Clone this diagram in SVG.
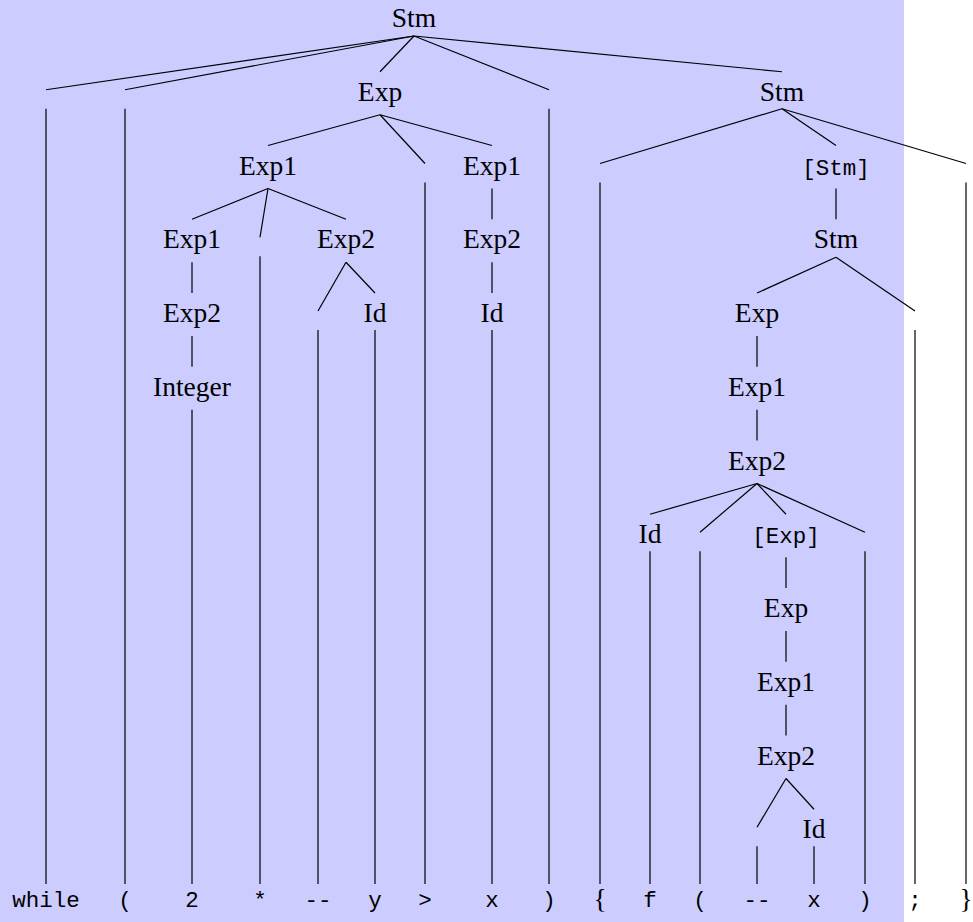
<svg xmlns="http://www.w3.org/2000/svg" width="973" height="922" viewBox="0 0 973 922">
<style>
.n{font-family:"Liberation Serif","DejaVu Serif",serif;font-size:27.5px;text-anchor:middle;fill:#000}
.m{font-family:"Liberation Mono","DejaVu Sans Mono",monospace;font-size:22.5px;text-anchor:middle;fill:#000}
#edges line{stroke:#000;stroke-width:1.2;stroke-linecap:butt}
</style>
<rect x="0" y="0" width="904" height="922" fill="#ccccff"/>
<g id="edges">
<line x1="414" y1="36" x2="46" y2="89.75"/>
<line x1="414" y1="36" x2="125" y2="89.75"/>
<line x1="414" y1="36" x2="380" y2="71.75"/>
<line x1="414" y1="36" x2="549" y2="89.75"/>
<line x1="414" y1="36" x2="782" y2="71.75"/>
<line x1="46" y1="108.75" x2="46" y2="884"/>
<line x1="125" y1="108.75" x2="125" y2="884"/>
<line x1="549" y1="108.75" x2="549" y2="884"/>
<line x1="380" y1="114.75" x2="268" y2="145.5"/>
<line x1="380" y1="114.75" x2="425" y2="163.5"/>
<line x1="380" y1="114.75" x2="492" y2="145.5"/>
<line x1="425" y1="182.5" x2="425" y2="884"/>
<line x1="782" y1="108.75" x2="600" y2="163.5"/>
<line x1="782" y1="108.75" x2="836" y2="145.5"/>
<line x1="782" y1="108.75" x2="966" y2="163.5"/>
<line x1="600" y1="182.5" x2="600" y2="884"/>
<line x1="966" y1="182.5" x2="966" y2="884"/>
<line x1="268" y1="188.5" x2="192" y2="219.25"/>
<line x1="268" y1="188.5" x2="260" y2="237.25"/>
<line x1="268" y1="188.5" x2="346" y2="219.25"/>
<line x1="260" y1="256.25" x2="260" y2="884"/>
<line x1="492" y1="188.5" x2="492" y2="219.25"/>
<line x1="836" y1="188.5" x2="836" y2="219.25"/>
<line x1="192" y1="262.25" x2="192" y2="293"/>
<line x1="346" y1="262.25" x2="318" y2="311"/>
<line x1="346" y1="262.25" x2="375" y2="293"/>
<line x1="318" y1="330" x2="318" y2="884"/>
<line x1="492" y1="262.25" x2="492" y2="293"/>
<line x1="836" y1="257.25" x2="757" y2="293"/>
<line x1="836" y1="257.25" x2="915" y2="311"/>
<line x1="915" y1="330" x2="915" y2="884"/>
<line x1="192" y1="336" x2="192" y2="366.75"/>
<line x1="375" y1="330" x2="375" y2="884"/>
<line x1="492" y1="330" x2="492" y2="884"/>
<line x1="757" y1="336" x2="757" y2="366.75"/>
<line x1="192" y1="409.75" x2="192" y2="884"/>
<line x1="757" y1="409.75" x2="757" y2="440.5"/>
<line x1="757" y1="483.5" x2="650" y2="514.25"/>
<line x1="757" y1="483.5" x2="700" y2="532.25"/>
<line x1="757" y1="483.5" x2="786" y2="514.25"/>
<line x1="757" y1="483.5" x2="865" y2="532.25"/>
<line x1="700" y1="551.25" x2="700" y2="884"/>
<line x1="865" y1="551.25" x2="865" y2="884"/>
<line x1="650" y1="551.25" x2="650" y2="884"/>
<line x1="786" y1="557.25" x2="786" y2="588"/>
<line x1="786" y1="631" x2="786" y2="661.75"/>
<line x1="786" y1="704.75" x2="786" y2="735.5"/>
<line x1="786" y1="778.5" x2="757" y2="827.25"/>
<line x1="786" y1="778.5" x2="814" y2="809.25"/>
<line x1="757" y1="846.25" x2="757" y2="884"/>
<line x1="814" y1="846.25" x2="814" y2="884"/>
</g>
<g id="n-root"><text class="n" x="414" y="27">Stm</text></g>
<g id="n-exp-a"><text class="n" x="380" y="100.75">Exp</text></g>
<g id="n-stm-b"><text class="n" x="782" y="100.75">Stm</text></g>
<g id="n-exp1-a"><text class="n" x="268" y="174.5">Exp1</text></g>
<g id="n-exp1-b"><text class="n" x="492" y="174.5">Exp1</text></g>
<g id="n-lstm"><text class="m" x="836" y="174.5">[Stm]</text></g>
<g id="n-exp1-c"><text class="n" x="192" y="248.25">Exp1</text></g>
<g id="n-exp2-a"><text class="n" x="346" y="248.25">Exp2</text></g>
<g id="n-exp2-b"><text class="n" x="492" y="248.25">Exp2</text></g>
<g id="n-stm-c"><text class="n" x="836" y="248.25">Stm</text></g>
<g id="n-exp2-c"><text class="n" x="192" y="322">Exp2</text></g>
<g id="n-id-a"><text class="n" x="375" y="322">Id</text></g>
<g id="n-id-b"><text class="n" x="492" y="322">Id</text></g>
<g id="n-exp-d"><text class="n" x="757" y="322">Exp</text></g>
<g id="n-integer"><text class="n" x="192" y="395.75">Integer</text></g>
<g id="n-exp1-d"><text class="n" x="757" y="395.75">Exp1</text></g>
<g id="n-exp2-d"><text class="n" x="757" y="469.5">Exp2</text></g>
<g id="n-id-c"><text class="n" x="650" y="543.25">Id</text></g>
<g id="n-lexp"><text class="m" x="786" y="543.25">[Exp]</text></g>
<g id="n-exp-e"><text class="n" x="786" y="617">Exp</text></g>
<g id="n-exp1-e"><text class="n" x="786" y="690.75">Exp1</text></g>
<g id="n-exp2-e"><text class="n" x="786" y="764.5">Exp2</text></g>
<g id="n-id-d"><text class="n" x="814" y="838.25">Id</text></g>
<g id="leaves">
<text class="m" x="46" y="907">while</text>
<text class="m" x="125" y="907">(</text>
<text class="m" x="192" y="907">2</text>
<text class="m" x="260" y="907">*</text>
<text class="m" x="318" y="907">--</text>
<text class="m" x="375" y="907">y</text>
<text class="m" x="425" y="907">&gt;</text>
<text class="m" x="492" y="907">x</text>
<text class="m" x="549" y="907">)</text>
<text class="n" x="600" y="908">{</text>
<text class="m" x="650" y="907">f</text>
<text class="m" x="700" y="907">(</text>
<text class="m" x="757" y="907">--</text>
<text class="m" x="814" y="907">x</text>
<text class="m" x="865" y="907">)</text>
<text class="m" x="915" y="907">;</text>
<text class="n" x="966" y="908">}</text>
</g>
</svg>
